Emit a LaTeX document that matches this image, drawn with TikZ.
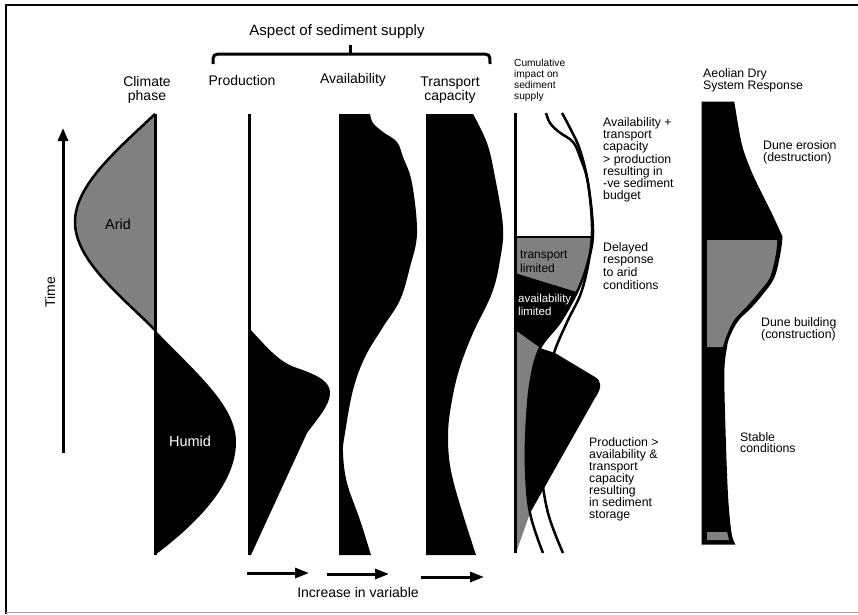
\documentclass[tikz,border=0pt]{standalone}
\usepackage{fontspec}
\setmainfont{Liberation Sans}
\usetikzlibrary{arrows.meta}
\tikzset{
  heading/.style={font=\fontsize{14}{14}\selectfont, align=center, inner sep=0pt},
  note/.style={font=\fontsize{12.3}{12.3}\selectfont, align=left, anchor=north west, inner sep=0pt},
  edge/.style={line width=3pt},
  curve/.style={line width=2.5pt},
  incr/.style={line width=3pt, -{Triangle[length=14pt,width=10pt]}},
}
\begin{document}
\begin{tikzpicture}[x=1pt,y=-1pt]
    \useasboundingbox (0,0) rectangle (858,614);
    \draw[line width=2.5pt] (6,614) -- (6,5) -- (858,5);
    \draw[gray!70,line width=1pt] (6,612.5) -- (858,612.5);

    % headings
    \node[heading,font=\fontsize{15}{15}\selectfont] (aspect) at (337,32) {Aspect of sediment supply};
    \draw[edge] (213,64) .. controls (213,54) .. (224,54) -- (479,54) .. controls (490,54) .. (490,64);
    \draw[edge] (350,54) -- (350,45);
    \node[heading] (climate) at (147,90) {Climate\\phase};
    \node[heading] (production) at (242,80) {Production};
    \node[heading] (availability) at (353,80) {Availability};
    \node[heading] (transport) at (450,90) {Transport\\capacity};
    \node[note,font=\fontsize{10.2}{11}\selectfont] (cumulative) at (514,59) {Cumulative\\impact on\\sediment\\supply};
    \node[note] (aeolian) at (703,68) {Aeolian Dry\\System Response};

    % time axis
    \coordinate (time bottom) at (63,453);
    \coordinate (time top) at (63,128);
    \draw[line width=3pt,-{Triangle[length=13pt,width=10pt]}] (time bottom) -- (time top);
    \node[heading,rotate=90] (time) at (50,292) {Time};

    % climate phase
    \filldraw[line width=2.5pt,fill=gray] (155,114) .. controls (117,150) and (75,185) .. (75,222) .. controls (75,260) and (120,295) .. (155,330);
    \fill (155,330) .. controls (195,372) and (236,405) .. (236,442) .. controls (236,485) and (195,525) .. (155,555) -- cycle;
    \draw[edge] (155,114) -- (155,555);
    \node[heading,font=\fontsize{14.5}{14.5}\selectfont] (arid) at (118,224) {Arid};
    \node[heading,font=\fontsize{14.5}{14.5}\selectfont,white] (humid) at (190,441) {Humid};

    % production
    \draw[edge] (249,114) -- (249,555);
    \fill (249,328) .. controls (265,345) and (278,362) .. (297,368) .. controls (320,376) and (330,382) .. (330,393) .. controls (330,405) and (318,418) .. (307,433) -- (251,555) -- (249,555) -- cycle;

    % availability
    \fill (339,114) -- plot[smooth,tension=0.6] coordinates {(370,114) (373,123) (383,132) (397,142) (403,157) (412,183) (417,233) (410,267) (400,300) (383,327) (365,357) (353,390) (345,433) (343,453) (347,483) (360,520) (371,555)} -- (339,555) -- cycle;

    % transport capacity
    \fill (426,114) -- plot[smooth,tension=0.6] coordinates {(473,114) (487,143) (495,177) (503,227) (500,260) (492,293) (473,333) (460,367) (452,400) (448,437) (453,480) (476,555)} -- (426,555) -- cycle;

    % increase arrows
    \coordinate (inc1 a) at (247,573); \coordinate (inc1 b) at (309,573);
    \coordinate (inc2 a) at (327,574); \coordinate (inc2 b) at (389,574);
    \coordinate (inc3 a) at (421,577); \coordinate (inc3 b) at (484,577);
    \draw[incr] (inc1 a) -- (inc1 b);
    \draw[incr] (inc2 a) -- (inc2 b);
    \draw[incr] (inc3 a) -- (inc3 b);
    \node[heading] (increase) at (358,592) {Increase in variable};

    % cumulative impact
    \fill[gray] (515,237) -- (592,237) .. controls (590,262) and (584,278) .. (577,292) -- (515,273) -- cycle;
    \fill (515,273) -- (577,292) .. controls (569,310) and (555,330) .. (540,348) -- (515,330) -- cycle;
    \fill[gray] (515,330) -- (540,348) .. controls (530,375) and (526,420) .. (526,467) .. controls (526,490) and (528,505) .. (530,513) -- (517,550) -- (515,550) -- cycle;
    \fill (540,348) -- (555,353) -- (595,377) .. controls (602,381) and (602,388) .. (595,398) -- (530,513) .. controls (528,505) and (526,490) .. (526,467) .. controls (526,420) and (530,375) .. (540,348) -- cycle;
    \draw[curve] plot[smooth,tension=0.6] coordinates {(546,113) (550,123) (559,132) (573,142) (580,157) (588,183) (593,233) (587,265) (577,292) (560,322) (540,348) (531,380) (527,420) (526,467) (530,513) (543,553)};
    \draw[curve] plot[smooth,tension=0.6] coordinates {(562,113) (571,130) (580,150) (588,183) (592,227) (589,260) (581,293) (568,320) (555,350) (547,380) (542,420) (541,467) (548,513) (563,553)};
    \draw[line width=2pt] (515,237) -- (592,237);
    \draw[edge] (515,113) -- (515,553);
    \node[note,font=\fontsize{12}{13.5}\selectfont] (translim) at (520,251) {transport\\limited};
    \node[note,font=\fontsize{11.5}{13}\selectfont,white] (availlim) at (518,294) {availability\\limited};
    \node[note] (budget) at (603,117) {Availability +\\transport\\capacity\\> production\\resulting in\\-ve sediment\\budget};
    \node[note,font=\fontsize{12.3}{12.7}\selectfont] (delayed) at (603,242) {Delayed\\response\\to arid\\conditions};
    \node[note,font=\fontsize{12.3}{12}\selectfont] (storage) at (589,437) {Production >\\availability \&\\transport\\capacity\\resulting\\in sediment\\storage};

    % aeolian dry system response
    \filldraw[edge,fill=black] (703,103) -- plot[smooth,tension=0.6] coordinates {(733,103) (740,143) (748,167) (757,187) (770,213) (781,237)} -- plot[smooth,tension=0.6] coordinates {(781,237) (779,253) (773,277) (762,293) (750,307) (737,320) (728,337) (725,350) (723,367) (723,393) (725,460) (727,503) (730,533) (733,543)} -- (703,543) -- cycle;
    \fill[gray] (707,240) -- plot[smooth,tension=0.6] coordinates {(777,240) (776,253) (770,277) (759,292) (747,306) (734,320) (726,337) (723,347)} -- (707,347) -- cycle;
    \fill[gray] (707,532) -- (727,532) -- (729,540) -- (707,540) -- cycle;
    \node[note] (erosion) at (763,140) {Dune erosion\\(destruction)};
    \node[note] (building) at (761,317) {Dune building\\(construction)};
    \node[note,font=\fontsize{12.3}{11.5}\selectfont] (stable) at (740,432) {Stable\\conditions};
\end{tikzpicture}
\end{document}
